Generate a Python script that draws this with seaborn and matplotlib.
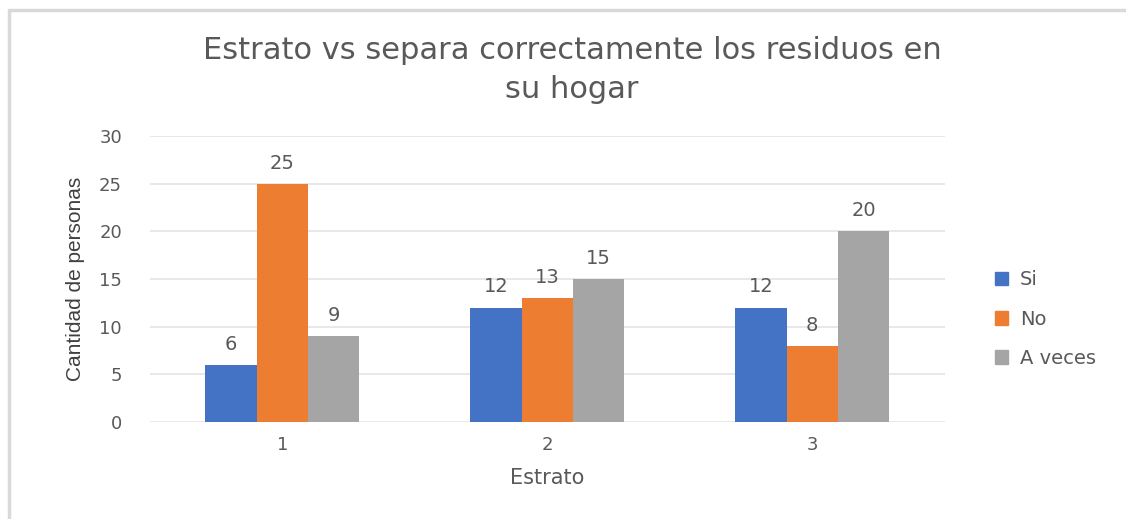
import matplotlib
matplotlib.use("Agg")
import matplotlib.pyplot as plt
from matplotlib.lines import Line2D
import pandas as pd
import seaborn as sns

estratos = ["1", "2", "3"]
si = [6, 12, 12]
no = [25, 13, 8]
a_veces = [9, 15, 20]
series = ["Si", "No", "A veces"]
colors = ["#4472C4", "#ED7D31", "#A5A5A5"]

df = pd.DataFrame({
    "Estrato": estratos * 3,
    "Respuesta": ["Si"] * 3 + ["No"] * 3 + ["A veces"] * 3,
    "Cantidad": si + no + a_veces,
})

sns.set_theme(style="white")
plt.rcParams["font.family"] = ["DejaVu Sans"]
text_gray = "#595959"

fig = plt.figure(figsize=(11.26, 5.19), dpi=100)
ax = fig.add_axes([0.133, 0.187, 0.706, 0.551])

sns.barplot(data=df, x="Estrato", y="Cantidad", hue="Respuesta",
            hue_order=series, palette=colors, width=0.58, saturation=1,
            linewidth=0, ax=ax, legend=False)

for cont in ax.containers:
    ax.bar_label(cont, padding=8, fontsize=14, color=text_gray)

ax.set_ylim(0, 30)
ax.set_yticks(range(0, 31, 5))
ax.yaxis.grid(True, color="#E4E4E4", linewidth=1.2)
ax.set_axisbelow(True)
for s in ax.spines.values():
    s.set_visible(False)
ax.tick_params(axis="both", length=0, labelsize=13, labelcolor=text_gray, pad=10)
ax.tick_params(axis="y", pad=20)

ax.set_xlabel("Estrato", fontsize=15, color=text_gray, labelpad=10)
ax.set_ylabel("Cantidad de personas", fontsize=15, color="#404040",
              family="Liberation Sans", labelpad=10)

fig.text(0.508, 0.865, "Estrato vs separa correctamente los residuos en\nsu hogar",
         ha="center", va="center", fontsize=22, color=text_gray, linespacing=1.45)

handles = [plt.Rectangle((0, 0), 1, 1, color=c) for c in colors]
fig.legend(handles, series, loc="center left", bbox_to_anchor=(0.868, 0.385),
           frameon=False, fontsize=14, labelcolor=text_gray,
           handlelength=0.7, handleheight=0.7, handletextpad=0.6,
           labelspacing=1.05)

# outer chart frame
fig.add_artist(Line2D([0.008, 0.008], [0, 0.98], color="#D9D9D9", lw=2.5,
                      transform=fig.transFigure))
fig.add_artist(Line2D([0.008, 1], [0.98, 0.98], color="#D9D9D9", lw=2.5,
                      transform=fig.transFigure))

fig.savefig("out.png", dpi=100, facecolor="white")
